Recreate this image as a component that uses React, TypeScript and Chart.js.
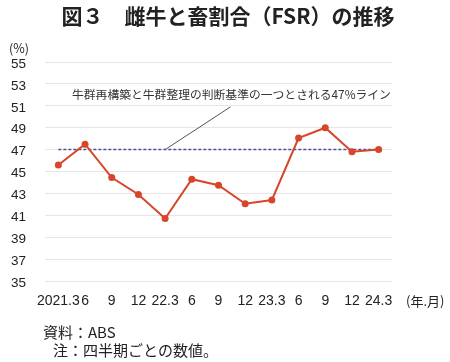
import React, { useEffect, useRef } from "react";
import { Chart, registerables } from "chart.js";

Chart.register(...registerables);

const categories = ["2021.3", "6", "9", "12", "22.3", "6", "9", "12", "23.3", "6", "9", "12", "24.3"];
const fsrValues = [45.6, 47.5, 44.45, 42.9, 40.7, 44.3, 43.75, 42.05, 42.4, 48.05, 49.0, 46.8, 47.0];
const thresholdValues = [47, 47, 47, 47, 47, 47, 47, 47, 47, 47, 47, 47, 47];
const yMin = 35;
const yMax = 55;
const yStep = 2;
const titleText = "図３　雌牛と畜割合（FSR）の推移";
const unitY = "(%)";
const unitX = "(年.月)";
const annotationText = "牛群再構築と牛群整理の判断基準の一つとされる47%ライン";
// leader line: from (category index, value) to (category index, value)
const leaderFrom = [6.45, 50.9];
const leaderTo = [4, 47];
const notes = ["資料：ABS", "注：四半期ごとの数値。"];

const FONT = "'Liberation Sans', 'Noto Sans CJK JP', sans-serif";
const JFONT = "'Noto Sans CJK JP', 'Liberation Sans', sans-serif";

export default function App() {
  const ref = useRef<HTMLCanvasElement | null>(null);

  useEffect(() => {
    if (!ref.current) return;

    const textPlugin = {
      id: "texts",
      beforeDatasetsDraw(chart: any) {
        const ctx = chart.ctx;
        const xs = chart.scales.x;
        const ys = chart.scales.y;
        const px = (i: number) => {
          const a = Math.floor(i);
          const b = Math.min(a + 1, categories.length - 1);
          const pa = xs.getPixelForValue(a);
          const pb = xs.getPixelForValue(b);
          return pa + (i - a) * (pb - pa);
        };
        ctx.save();
        ctx.strokeStyle = "#555";
        ctx.lineWidth = 1;
        ctx.beginPath();
        ctx.moveTo(px(leaderFrom[0]), ys.getPixelForValue(leaderFrom[1]));
        ctx.lineTo(px(leaderTo[0]), ys.getPixelForValue(leaderTo[1]));
        ctx.stroke();
        ctx.restore();
      },
      afterDraw(chart: any) {
        const ctx = chart.ctx;
        const area = chart.chartArea;
        ctx.save();
        ctx.fillStyle = "#222";
        ctx.textBaseline = "middle";
        // title
        ctx.font = `bold 21px ${JFONT}`;
        ctx.textAlign = "center";
        ctx.fillText(titleText, 228, 16);
        // unit y
        ctx.font = `12.5px ${JFONT}`;
        ctx.textAlign = "left";
        ctx.fillText(unitY, 9, 48);
        // annotation
        ctx.font = `11.8px ${JFONT}`;
        ctx.fillStyle = "#333";
        ctx.fillText(annotationText, 72, 95);
        // unit x
        ctx.fillStyle = "#222";
        ctx.font = `13px ${JFONT}`;
        ctx.fillText(unitX, area.right + 14, 301);
        // notes
        ctx.font = `15px ${JFONT}`;
        ctx.fillText(notes[0], 43, 332);
        ctx.fillText(notes[1], 53, 350);
        ctx.restore();
      },
    };

    const chart = new Chart(ref.current, {
      type: "line",
      data: {
        labels: categories,
        datasets: [
          {
            label: "FSR",
            data: fsrValues,
            borderColor: "#D6462B",
            backgroundColor: "#D6462B",
            borderWidth: 2,
            pointRadius: 3.5,
            pointBorderWidth: 0,
            pointBackgroundColor: "#D6462B",
            tension: 0,
          },
          {
            label: "47%",
            data: thresholdValues,
            borderColor: "#4B4F98",
            borderWidth: 1.5,
            borderDash: [3, 2],
            pointRadius: 0,
            tension: 0,
          },
        ],
      },
      options: {
        responsive: false,
        animation: false,
        layout: { padding: { top: 62, right: 58, bottom: 51, left: 0 } },
        plugins: {
          legend: { display: false },
          tooltip: { enabled: false },
          title: { display: false },
        },
        scales: {
          x: {
            type: "category",
            offset: true,
            grid: { display: false, drawTicks: false },
            border: { display: false },
            ticks: {
              autoSkip: false,
              maxRotation: 0,
              minRotation: 0,
              padding: 12,
              color: "#222",
              font: { size: 14, family: FONT },
            },
            afterFit: (s: any) => {
              s.height = 30;
            },
          },
          y: {
            min: yMin,
            max: yMax,
            ticks: {
              stepSize: yStep,
              padding: 19,
              labelOffset: 2,
              color: "#222",
              font: { size: 13.5, family: FONT },
            },
            grid: { color: "#E6E6E6", drawTicks: false, lineWidth: 1 },
            border: { display: false },
            afterFit: (s: any) => {
              s.width = 45;
            },
          },
        },
      },
      plugins: [textPlugin],
    });

    return () => chart.destroy();
  }, []);

  return (
    <div style={{ position: "absolute", left: 0, top: 0, width: 450, height: 362, background: "#fff" }}>
      <canvas ref={ref} width={450} height={362} style={{ display: "block" }} />
    </div>
  );
}
